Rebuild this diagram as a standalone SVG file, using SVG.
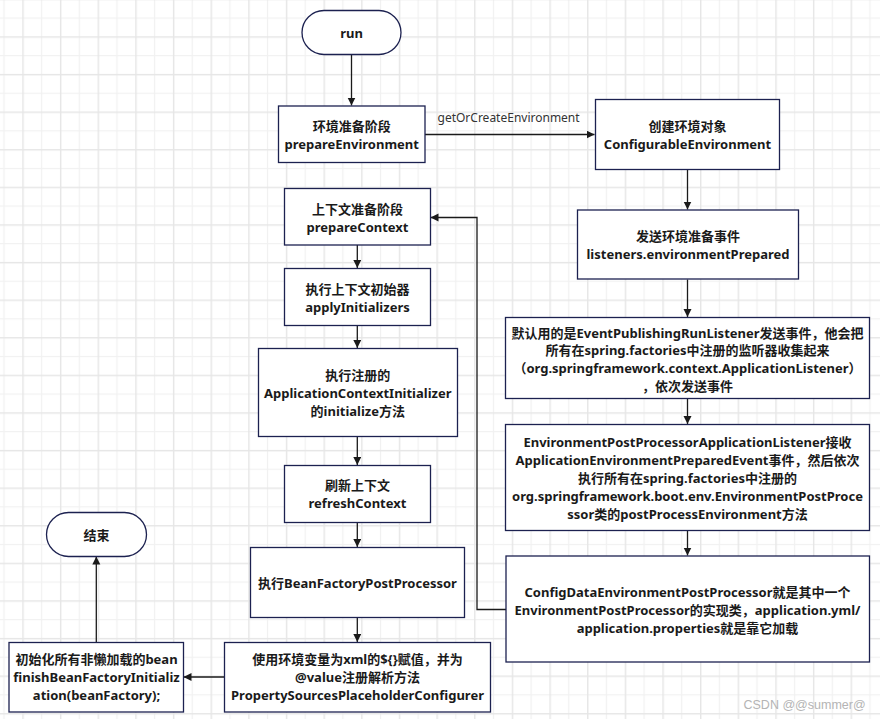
<svg xmlns="http://www.w3.org/2000/svg" width="880" height="719" viewBox="0 0 880 719">
<defs>
<pattern id="grid" patternUnits="userSpaceOnUse" x="22.3" y="36.3" width="37.65" height="37.6">
<rect x="0" y="0" width="37.65" height="37.6" fill="#ffffff"/>
<rect x="18.8" y="0" width="1.1" height="37.6" fill="#f1f1f1"/>
<rect x="0" y="18.8" width="37.65" height="1.1" fill="#f1f1f1"/>
<rect x="0" y="0" width="1.4" height="37.6" fill="#e6e6e6"/>
<rect x="0" y="0" width="37.65" height="1.4" fill="#e6e6e6"/>
</pattern>
<marker id="arr" markerUnits="userSpaceOnUse" markerWidth="10" markerHeight="10" refX="8" refY="4" orient="auto">
<path d="M0,0 L8,4 L0,8 Z" fill="#1a1a1a"/>
</marker>
<style>
.box{fill:#ffffff;stroke:#1c2150;stroke-width:1.3}
.t{font-family:"Noto Sans","Noto Sans CJK SC",sans-serif;font-weight:bold;font-size:13px;fill:#1a1a1a;text-anchor:middle;dominant-baseline:central}
.c{fill:none;stroke:#1a1a1a;stroke-width:1.3;marker-end:url(#arr)}
.lbl{font-family:"Noto Sans","Noto Sans CJK SC",sans-serif;font-size:12px;fill:#333333}
.wm{font-family:"Liberation Sans",Arial,sans-serif;font-size:12.5px;fill:#b4b4b4}
</style>
</defs>
<rect x="0" y="0" width="880" height="719" fill="url(#grid)"/>

<g id="connectors">
<path class="c" d="M351.5,54.5 V105.5"/>
<path class="c" d="M425,134.5 H594.5"/>
<text class="lbl" x="437.5" y="121.5">getOrCreateEnvironment</text>
<path class="c" d="M687.5,169.5 V209.5"/>
<path class="c" d="M687.5,279.5 V317"/>
<path class="c" d="M687.5,398.5 V424"/>
<path class="c" d="M687.5,530.5 V555.5"/>
<path class="c" d="M506,609.5 H477 V217.5 H430.5"/>
<path class="c" d="M357.3,245 V268"/>
<path class="c" d="M357.3,325.5 V348"/>
<path class="c" d="M357.3,436.5 V465"/>
<path class="c" d="M357.3,522.5 V547"/>
<path class="c" d="M357.3,617.5 V642"/>
<path class="c" d="M224,677 H183.5"/>
<path class="c" d="M96.3,642 V556.5"/>
</g>

<g id="run">
<rect class="box" x="302" y="10.5" width="99" height="44" rx="22" ry="22"/>
<text class="t" x="351.5" y="33">run</text>
</g>

<g id="prepareEnvironment">
<rect class="box" x="278.5" y="106" width="146.5" height="56.5"/>
<text class="t" x="351.7" y="125.5">环境准备阶段</text>
<text class="t" x="351.7" y="143.5">prepareEnvironment</text>
</g>

<g id="createEnvironment">
<rect class="box" x="595.5" y="99.5" width="184" height="70"/>
<text class="t" x="687.5" y="126">创建环境对象</text>
<text class="t" x="687.5" y="144">ConfigurableEnvironment</text>
</g>

<g id="environmentPrepared">
<rect class="box" x="577.5" y="210" width="221" height="69"/>
<text class="t" x="688" y="236">发送环境准备事件</text>
<text class="t" x="688" y="254">listeners.environmentPrepared</text>
</g>

<g id="eventPublishing">
<rect class="box" x="505.5" y="317.5" width="364" height="81"/>
<text class="t" x="687.5" y="332.5">默认用的是EventPublishingRunListener发送事件，他会把</text>
<text class="t" x="687.5" y="350.3">所有在spring.factories中注册的监听器收集起来</text>
<text class="t" x="687.5" y="368">（org.springframework.context.ApplicationListener）</text>
<text class="t" x="687.5" y="385.8">，依次发送事件</text>
</g>

<g id="postProcessorListener">
<rect class="box" x="505.5" y="424.5" width="364" height="106"/>
<text class="t" x="687.5" y="441.7">EnvironmentPostProcessorApplicationListener接收</text>
<text class="t" x="687.5" y="459.7">ApplicationEnvironmentPreparedEvent事件，然后依次</text>
<text class="t" x="687.5" y="477.7">执行所有在spring.factories中注册的</text>
<text class="t" x="687.5" y="495.7">org.springframework.boot.env.EnvironmentPostProce</text>
<text class="t" x="687.5" y="513.5">ssor类的postProcessEnvironment方法</text>
</g>

<g id="configData">
<rect class="box" x="506" y="556" width="363.5" height="106"/>
<text class="t" x="687.5" y="592.3">ConfigDataEnvironmentPostProcessor就是其中一个</text>
<text class="t" x="687.5" y="610.3">EnvironmentPostProcessor的实现类，application.yml/</text>
<text class="t" x="687.5" y="628.3">application.properties就是靠它加载</text>
</g>

<g id="prepareContext">
<rect class="box" x="284.5" y="188.5" width="146" height="56.5"/>
<text class="t" x="357.5" y="209">上下文准备阶段</text>
<text class="t" x="357.5" y="226.8">prepareContext</text>
</g>

<g id="applyInitializers">
<rect class="box" x="284.5" y="268.5" width="146" height="57"/>
<text class="t" x="357.5" y="288.7">执行上下文初始器</text>
<text class="t" x="357.5" y="306.7">applyInitializers</text>
</g>

<g id="contextInitializer">
<rect class="box" x="258.5" y="348.5" width="199" height="88"/>
<text class="t" x="357.8" y="375">执行注册的</text>
<text class="t" x="357.8" y="393">ApplicationContextInitializer</text>
<text class="t" x="357.8" y="411">的initialize方法</text>
</g>

<g id="refreshContext">
<rect class="box" x="284.5" y="465.5" width="146" height="57"/>
<text class="t" x="357.5" y="485.3">刷新上下文</text>
<text class="t" x="357.5" y="503.3">refreshContext</text>
</g>

<g id="beanFactoryPostProcessor">
<rect class="box" x="250.5" y="547.5" width="214" height="70"/>
<text class="t" x="357.5" y="583">执行BeanFactoryPostProcessor</text>
</g>

<g id="placeholderConfigurer">
<rect class="box" x="224.5" y="642.5" width="266" height="69.5"/>
<text class="t" x="357.5" y="659.3">使用环境变量为xml的${}赋值，并为</text>
<text class="t" x="357.5" y="677.3">@value注册解析方法</text>
<text class="t" x="357.5" y="695.3">PropertySourcesPlaceholderConfigurer</text>
</g>

<g id="finishBeanFactory">
<rect class="box" x="9" y="642.5" width="174.5" height="69.5"/>
<text class="t" x="96.5" y="659.3">初始化所有非懒加载的bean</text>
<text class="t" x="96.5" y="677.3">finishBeanFactoryInitializ</text>
<text class="t" x="96.5" y="695.3">ation(beanFactory);</text>
</g>

<g id="end">
<rect class="box" x="46.5" y="512.5" width="100" height="44" rx="22" ry="22"/>
<text class="t" x="96.5" y="535">结束</text>
</g>

<text class="wm" x="743.5" y="708.5">CSDN @@summer@</text>
</svg>
